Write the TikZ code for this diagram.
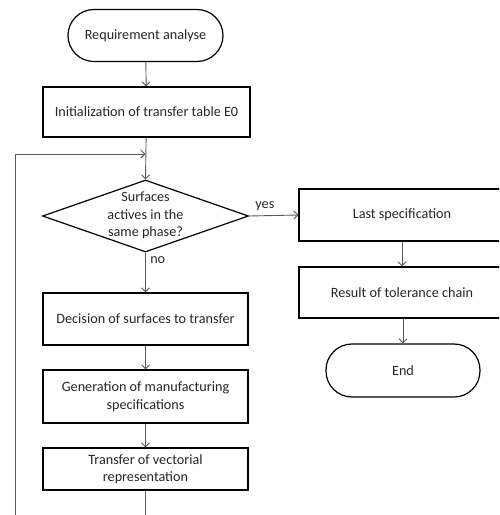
\documentclass[tikz,border=0pt]{standalone}
\usepackage{fontspec}
\setmainfont{Carlito}
\usetikzlibrary{arrows.meta,shapes.geometric}
\begin{document}
\begin{tikzpicture}[x=1pt,y=-1pt,
  every node/.style={font=\fontsize{14.2}{17.5}\selectfont, text=black!85},
  box/.style={draw=black, line width=1.2pt, rectangle, minimum width=#1, minimum height=51pt, inner sep=0pt, align=center},
  box/.default=205pt,
  term/.style={draw=black, line width=1.2pt, rectangle, rounded corners=26pt, minimum width=155pt, minimum height=52pt, inner sep=0pt},
  conn/.style={draw=black!65, line width=0.9pt, -{Straight Barb[length=4pt,width=8pt]}},
  plain/.style={draw=black!65, line width=0.9pt}
]
\useasboundingbox (0,0) rectangle (499,515);
\clip (0,0) rectangle (499,515);
% left column
\node[term] (start) at (145.5,35.5) {Requirement analyse};
\node[box=207pt, minimum height=50pt] (init) at (146.5,112) {Initialization of transfer table E0};
\node[diamond, draw=black, line width=1.2pt, minimum width=206pt, minimum height=72pt, inner sep=0pt] (dec) at (145.5,216) {};
\node[align=center] (dectext) at (145.5,215.5) {Surfaces\\actives in the\\same phase?};
\node[box, minimum height=52pt] (surf) at (145.5,319) {Decision of surfaces to transfer};
\node[box, minimum height=53pt] (gen) at (145.5,396.5) {Generation of manufacturing\\specifications};
\node[box, minimum height=42pt] (trans) at (145.5,469) {Transfer of vectorial\\representation};
% right column
\node[box=206pt, minimum height=52pt] (last) at (402,215) {Last specification};
\node[box=206pt, minimum height=51pt] (res) at (402,292.5) {Result of tolerance chain};
\node[term, minimum width=154pt, minimum height=53pt] (end) at (403,370.5) {End};
% loop coordinates
\coordinate (bot) at (145.5,520);
\coordinate (lb) at (15,520);
\coordinate (lt) at (15,154);
\coordinate (join) at (145.5,154);
% connectors
\draw[conn] (start) -- (init);
\draw[conn] (init) -- (dec.north);
\draw[conn] (lb) -- (lt) -- (join);
\draw[conn] (dec.east) -- node[above, pos=0.32, yshift=1pt] {yes} (last.west);
\draw[conn] (dec.south) -- node[right, pos=0.18, xshift=1pt] {no} (surf.north);
\draw[conn] (surf) -- (gen);
\draw[conn] (gen) -- (trans);
\draw[plain] (trans) -- (bot);
\draw[conn] (last) -- (res);
\draw[conn] (res.south -| end.north) -- (end.north);
\end{tikzpicture}
\end{document}
